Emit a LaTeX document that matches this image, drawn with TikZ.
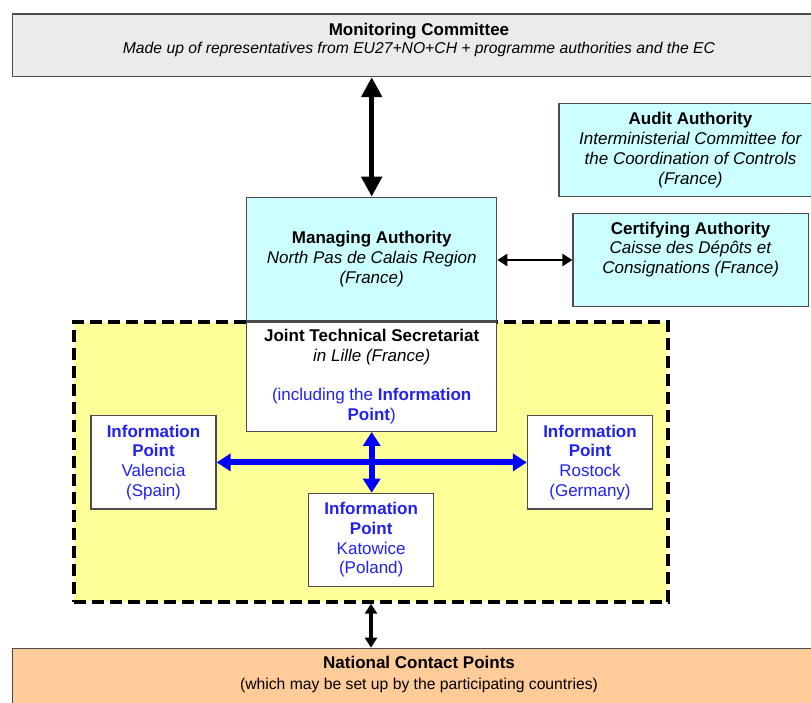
\documentclass[tikz,border=0pt]{standalone}
\usepackage{fontspec}
\setmainfont{Liberation Sans}
\usetikzlibrary{arrows.meta, positioning}

\definecolor{mcgray}{HTML}{EBEBEB}
\definecolor{authcyan}{HTML}{CCFFFF}
\definecolor{jtsyellow}{HTML}{FFFF99}
\definecolor{ncporange}{HTML}{FFCC99}
\definecolor{ipblue}{HTML}{2222EE}
\definecolor{arrowblue}{HTML}{0000FF}

\newcommand{\bodysize}{\fontsize{17}{19.7}\selectfont}
\newcommand{\titlesize}{\fontsize{17}{18}\selectfont}

\tikzset{
  orgbox/.style={draw=black!70, line width=1.3pt, inner sep=0pt, align=center, font=\bodysize},
  ipbox/.style={orgbox, fill=white, text=ipblue, minimum width=125, minimum height=93.3},
  boxtext/.style={inner sep=0pt, align=center},
  bigarrow/.style={line width=5pt, {Triangle[length=20pt,width=20pt]}-{Triangle[length=20pt,width=20pt]}},
  midarrow/.style={line width=2.6pt, {Triangle[length=10pt,width=12pt]}-{Triangle[length=10pt,width=12pt]}},
  bluearrow/.style={arrowblue, line width=6pt, {Triangle[length=14pt,width=17pt]}-{Triangle[length=14pt,width=17pt]}}
}

\begin{document}
\begin{tikzpicture}[x=1pt, y=-1pt]
    \clip (0,0) rectangle (811,702);
    % top and bottom bands
    \node[orgbox, fill=mcgray, minimum width=812.3, minimum height=62.5] (mc) at (418.85,45.25) {};
    \node[boxtext, font=\fontsize{15.7}{18}\selectfont] (mctext) at (419,39.5) {{\titlesize\textbf{Monitoring Committee}}\\ \textit{Made up of representatives from EU27+NO+CH + programme authorities and the EC}};
    \node[orgbox, fill=ncporange, minimum width=812.3, minimum height=77] (ncp) at (418.85,686.8) {};
    \node[boxtext, font=\fontsize{15.7}{21}\selectfont] (ncptext) at (419,674.5) {{\titlesize\textbf{National Contact Points}}\\ (which may be set up by the participating countries)};
    % authorities
    \node[orgbox, fill=authcyan, minimum width=263, minimum height=93.2] (aa) at (690.5,150.1) {\textbf{Audit Authority}\\ \textit{Interministerial Committee for}\\ \textit{the Coordination of Controls}\\ \textit{(France)}};
    \node[orgbox, fill=authcyan, minimum width=235.3, minimum height=93.4] (ca) at (690.65,260) {};
    \node[boxtext, font=\bodysize] (catext) at (690.65,249.5) {\textbf{Certifying Authority}\\ \textit{Caisse des Dépôts et}\\ \textit{Consignations (France)}};
    % secretariat area
    \node[draw, fill=jtsyellow, line width=4pt, dash pattern=on 12pt off 6pt, minimum width=594, minimum height=280] (jtsarea) at (371,461.7) {};
    \node[orgbox, fill=authcyan, minimum width=250, minimum height=123.4] (ma) at (371.7,259) {\textbf{Managing Authority}\\ \textit{North Pas de Calais Region}\\ \textit{(France)}};
    \node[orgbox, fill=white, minimum width=250, minimum height=109.3, below=0pt of ma] (jts) {\textbf{Joint Technical Secretariat}\\ \textit{in Lille (France)}\\[19.7pt] \textcolor{ipblue}{(including the \textbf{Information}}\\ \textcolor{ipblue}{\textbf{Point})}};
    \node[ipbox] (valencia) at (153.5,462.4) {\textbf{Information}\\ \textbf{Point}\\ Valencia\\ (Spain)};
    \node[ipbox] (rostock) at (590,462.4) {\textbf{Information}\\ \textbf{Point}\\ Rostock\\ (Germany)};
    \node[ipbox] (katowice) at (371.2,540) {\textbf{Information}\\ \textbf{Point}\\ Katowice\\ (Poland)};
    % links
    \draw[bigarrow] (mc.south -| ma.north) -- (ma.north);
    \draw[midarrow] (ca.west -| ma.east) -- (ca.west);
    \draw[bluearrow] (valencia.east) -- (rostock.west);
    \draw[bluearrow] (jts.south) -- (jts.south |- katowice.north);
    \draw[midarrow, line width=3.2pt] (jtsarea.south) -- (jtsarea.south |- ncp.north);
\end{tikzpicture}
\end{document}
